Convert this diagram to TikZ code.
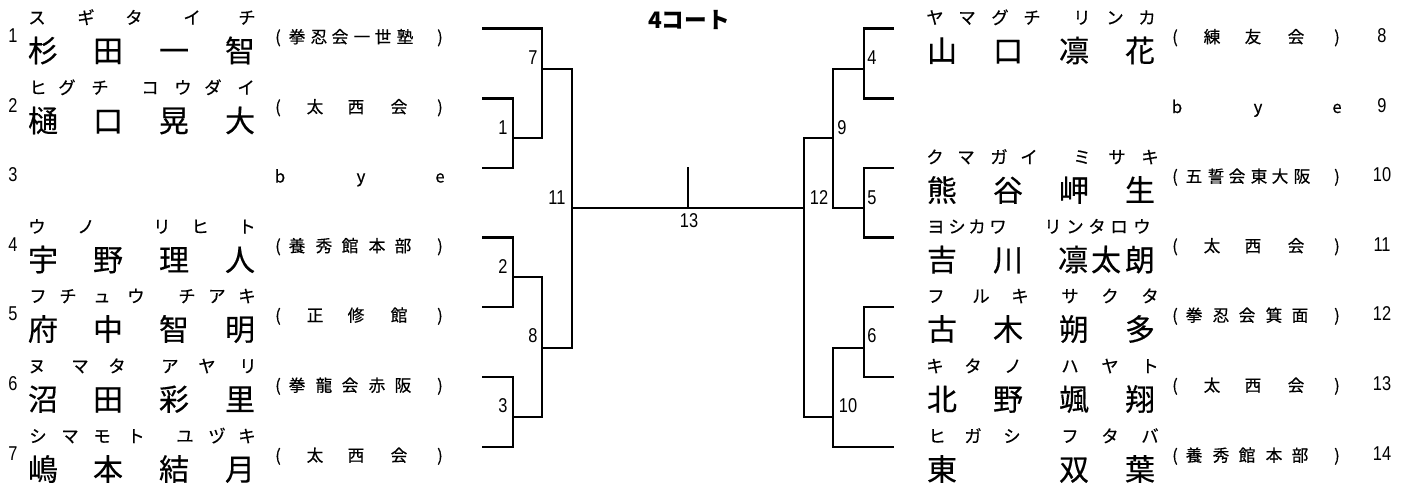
\documentclass[tikz,border=0pt]{standalone}
\usepackage{fontspec}
\newfontfamily\jp[FakeBold=0.4]{Noto Sans CJK JP}
\newfontfamily\jpt{Noto Sans CJK JP}
\newfontfamily\numfont[FakeStretch=0.82]{Liberation Sans}
\newcommand\kanarow[3]{\foreach \x/\c in {#3}{\node[kana] (ka#1-\x) at (\x,{#2-4.5}) {\c};}}
\newcommand\kanjirow[3]{\foreach \x/\c in {#3}{\node[kanji] (kj#1-\x) at (\x,{#2+33.4}) {\c};}}
\newcommand\clubrow[3]{\foreach \x/\c in {#3}{\node[club] (cl#1-\x) at (\x,{#2+14.5}) {\c};}}
\tikzset{
  kanji/.style={font=\jp\fontsize{22.5}{25}\selectfont, anchor=base, inner sep=0pt},
  kana/.style={font=\jp\fontsize{13}{15}\selectfont, anchor=base, inner sep=0pt},
  club/.style={font=\jp\fontsize{12.5}{15}\selectfont, anchor=base, inner sep=0pt},
  num/.style={font=\numfont\fontsize{15}{17}\selectfont, anchor=base, inner sep=0pt},
  ttl/.style={font=\jpt\bfseries\fontsize{17}{20}\selectfont, anchor=base, inner sep=0pt},
  brk/.style={line width=1.8pt, line join=miter}
}
\begin{document}
\begin{tikzpicture}[x=0.75pt,y=-0.75pt]
\fill[white] (0,0) rectangle (1406,487);
\useasboundingbox (0,0) rectangle (1406,487);

% title
\node[ttl] (title) at (689,28.6) {4コート};

% ---------- left entries ----------
% row 1
\node[num] (n1) at (13,{28.5+13.6}) {1};
\kanarow{1}{28.5}{37/ス,86/ギ,134/タ,192/イ,247/チ}
\kanjirow{1}{28.5}{43/杉,108/田,174/一,240/智}
\clubrow{1}{28.5}{278/(,297/拳,319/忍,340/会,362/一,383/世,405/塾,440/)}
% row 2
\node[num] (n2) at (13,{98.5+13.6}) {2};
\kanarow{2}{98.5}{38/ヒ,67/グ,100/チ,150/コ,183/ウ,213/ダ,246/イ}
\kanjirow{2}{98.5}{43/樋,108/口,174/晃,240/大}
\clubrow{2}{98.5}{278/(,315/太,356/西,399/会,440/)}
% row 3
\node[num] (n3) at (13,{168+13.6}) {3};
\clubrow{3}{168}{280/b,361/y,440/e}
% row 4
\node[num] (n4) at (13,{237.5+13.6}) {4};
\kanarow{4}{237.5}{37/ウ,86/ノ,162/リ,200/ヒ,247/ト}
\kanjirow{4}{237.5}{43/宇,108/野,174/理,240/人}
\clubrow{4}{237.5}{278/(,297/養,324/秀,350/館,377/本,403/部,440/)}
% row 5
\node[num] (n5) at (13,{307+13.6}) {5};
\kanarow{5}{307}{38/フ,68/チ,102/ュ,136/ウ,187/チ,217/ア,247/キ}
\kanjirow{5}{307}{43/府,108/中,174/智,240/明}
\clubrow{5}{307}{278/(,315/正,356/修,399/館,440/)}
% row 6
\node[num] (n6) at (13,{377+13.6}) {6};
\kanarow{6}{377}{37/ヌ,80/マ,117/タ,170/ア,207/ヤ,248/リ}
\kanjirow{6}{377}{43/沼,108/田,174/彩,240/里}
\clubrow{6}{377}{278/(,297/拳,324/龍,350/会,377/赤,403/阪,440/)}
% row 7
\node[num] (n7) at (13,{447+13.6}) {7};
\kanarow{7}{447}{38/シ,70/マ,102/モ,136/ト,185/ユ,217/ヅ,247/キ}
\kanjirow{7}{447}{43/嶋,108/本,174/結,240/月}
\clubrow{7}{447}{278/(,315/太,356/西,399/会,440/)}

% ---------- right entries ----------
% row 8
\node[num] (n8) at (1382,{28.5+13.6}) {8};
\kanarow{8}{28.5}{935/ヤ,967/マ,1000/グ,1032/チ,1082/リ,1115/ン,1147/カ}
\kanjirow{8}{28.5}{942/山,1008/口,1074/凛,1140/花}
\clubrow{8}{28.5}{1175/(,1212/練,1253/友,1296/会,1337/)}
% row 9
\node[num] (n9) at (1382,{98.5+13.6}) {9};
\clubrow{9}{98.5}{1177/b,1258/y,1337/e}
% row 10
\node[num] (n10) at (1382,{168+13.6}) {10};
\kanarow{10}{168}{935/ク,966/マ,999/ガ,1029/イ,1082/ミ,1117/サ,1150/キ}
\kanjirow{10}{168}{942/熊,1008/谷,1074/岬,1140/生}
\clubrow{10}{168}{1175/(,1194/五,1216/誓,1237/会,1259/東,1280/大,1302/阪,1337/)}
% row 11
\node[num] (n11) at (1382,{237.5+13.6}) {11};
\kanarow{11}{237.5}{936/ヨ,957/シ,977/カ,998/ワ,1053/リ,1075/ン,1097/タ,1119/ロ,1142/ウ}
\kanjirow{11}{237.5}{942/吉,1008/川,1073/凛,1106/太,1140/朗}
\clubrow{11}{237.5}{1175/(,1212/太,1253/西,1296/会,1337/)}
% row 12
\node[num] (n12) at (1382,{307+13.6}) {12};
\kanarow{12}{307}{936/フ,981/ル,1020/キ,1070/サ,1110/ク,1150/タ}
\kanjirow{12}{307}{942/古,1008/木,1074/朔,1140/多}
\clubrow{12}{307}{1175/(,1194/拳,1221/忍,1247/会,1274/箕,1300/面,1337/)}
% row 13
\node[num] (n13) at (1382,{377+13.6}) {13};
\kanarow{13}{377}{935/キ,973/タ,1013/ノ,1070/ハ,1110/ヤ,1150/ト}
\kanjirow{13}{377}{942/北,1008/野,1074/颯,1140/翔}
\clubrow{13}{377}{1175/(,1212/太,1253/西,1296/会,1337/)}
% row 14
\node[num] (n14) at (1382,{447+13.6}) {14};
\kanarow{14}{447}{937/ヒ,973/ガ,1012/シ,1070/フ,1110/タ,1150/バ}
\kanjirow{14}{447}{942/東,1074/双,1140/葉}
\clubrow{14}{447}{1175/(,1194/養,1221/秀,1247/館,1274/本,1300/部,1337/)}

% ---------- bracket coordinates ----------
\coordinate (e1) at (482,28.5);
\coordinate (e2) at (482,98.5);
\coordinate (e3) at (482,168);
\coordinate (e4) at (482,237.5);
\coordinate (e5) at (482,307);
\coordinate (e6) at (482,377);
\coordinate (e7) at (482,447);
\coordinate (e8) at (894,28.5);
\coordinate (e9) at (894,98.5);
\coordinate (e10) at (894,168);
\coordinate (e11) at (894,237.5);
\coordinate (e12) at (894,307);
\coordinate (e13) at (894,377);
\coordinate (e14) at (894,447);
\coordinate (m1) at (513,138);
\coordinate (m2) at (513,277);
\coordinate (m3) at (513,417);
\coordinate (m7) at (542,69);
\coordinate (m8) at (542,348);
\coordinate (m11) at (572,208);
\coordinate (m13) at (688,208);
\coordinate (m13t) at (688,167);
\coordinate (m12) at (804,208);
\coordinate (m9) at (833,138);
\coordinate (m10) at (833,417);
\coordinate (m4) at (864,69);
\coordinate (m5) at (864,208);
\coordinate (m6) at (864,348);

% ---------- bracket lines ----------
\draw[brk] (e2) -| (m1) |- (e3);
\draw[brk] (e4) -| (m2) |- (e5);
\draw[brk] (e6) -| (m3) |- (e7);
\draw[brk] (e1) -| (m7) |- (m1);
\draw[brk] (m2) -| (m8) |- (m3);
\draw[brk] (m7) -| (m11) |- (m8);
\draw[brk] (m11) -- (m12);
\draw[brk] (m13) -- (m13t);
\draw[brk] (m9) -| (m12) |- (m10);
\draw[brk] (m4) -| (m9) |- (m5);
\draw[brk] (e8) -| (m4) |- (e9);
\draw[brk] (e10) -| (m5) |- (e11);
\draw[brk] (m6) -| (m10) |- (e14);
\draw[brk] (e12) -| (m6) |- (e13);

% ---------- match numbers ----------
\node[num] (l7) at (533,64) {7};
\node[num] (l1) at (503,134) {1};
\node[num] (l11) at (557,204) {11};
\node[num] (l2) at (503,273) {2};
\node[num] (l8) at (533,342) {8};
\node[num] (l3) at (503,412) {3};
\node[num] (l13) at (689,227) {13};
\node[num] (l4) at (872,64) {4};
\node[num] (l9) at (842,134) {9};
\node[num] (l12) at (819,204) {12};
\node[num] (l5) at (872,204) {5};
\node[num] (l6) at (872,342) {6};
\node[num] (l10) at (848,412) {10};
\end{tikzpicture}
\end{document}
